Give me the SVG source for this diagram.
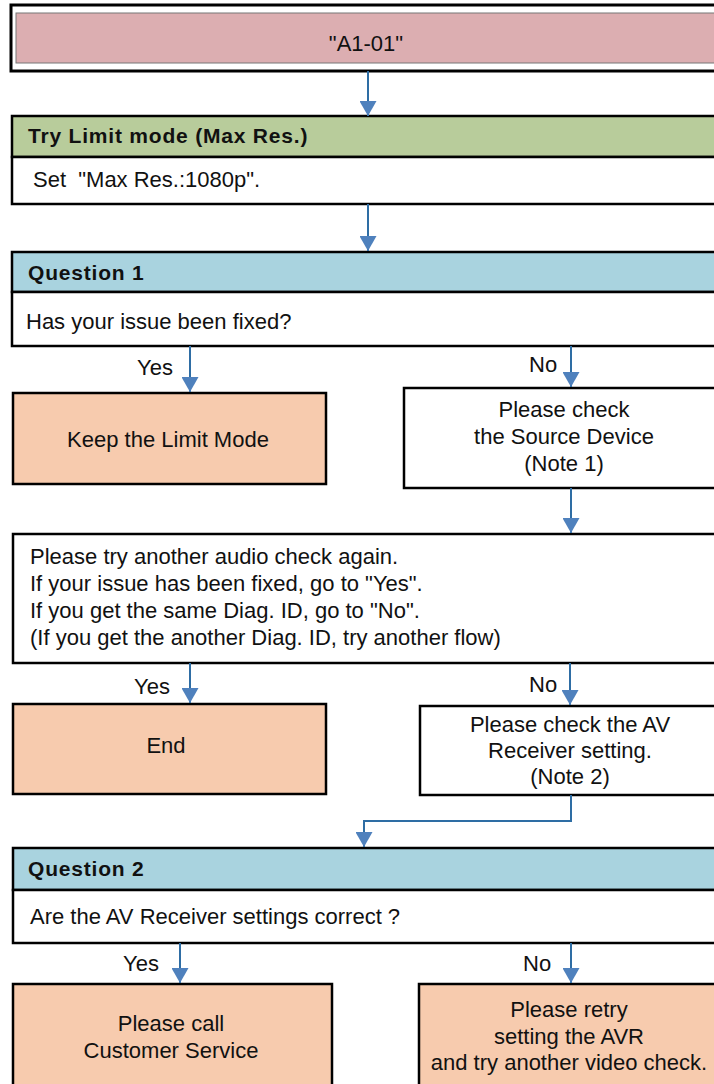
<svg xmlns="http://www.w3.org/2000/svg" width="714" height="1084" viewBox="0 0 714 1084">
<style>
.box{stroke:#000;stroke-width:2.5}
.w{fill:#fff}
.pk{fill:#f7cbae}
.gr{fill:#b8cc9b}
.bl{fill:#a9d3df}
.t{font-family:"Liberation Sans",Arial,sans-serif;font-size:22px;fill:#111}
.b{font-family:"Liberation Sans",Arial,sans-serif;font-size:21px;font-weight:bold;letter-spacing:0.8px;fill:#111}
.c{text-anchor:middle}
.cn{fill:none;stroke:#2e6da4;stroke-width:2}
</style>
<defs>
<marker id="ah" markerUnits="userSpaceOnUse" markerWidth="17" markerHeight="17" refX="15" refY="8.5" orient="auto">
<path d="M0,0 L15,8.5 L0,17 z" fill="#4f81bd"/>
</marker>
</defs>
<g id="start">
<rect x="11" y="5" width="720" height="66" fill="#fff" stroke="#000" stroke-width="3"/>
<rect x="16" y="13" width="710" height="50" fill="#dcaeb1" stroke="#777" stroke-width="1"/>
<text class="t c" x="366" y="51">"A1-01"</text>
</g>
<g id="limit">
<rect class="box gr" x="12" y="116" width="720" height="41"/>
<rect class="box w" x="12" y="157" width="720" height="47"/>
<text class="b" x="28" y="143">Try Limit mode (Max Res.)</text>
<text class="t" x="33" y="187" xml:space="preserve">Set  "Max Res.:1080p".</text>
</g>
<g id="q1">
<rect class="box bl" x="12" y="252" width="720" height="40"/>
<rect class="box w" x="12" y="292" width="720" height="54"/>
<text class="b" x="28" y="280">Question 1</text>
<text class="t" x="26" y="329">Has your issue been fixed?</text>
</g>
<g id="keep">
<rect class="box pk" x="13" y="393" width="313" height="91"/>
<text class="t c" x="168" y="447">Keep the Limit Mode</text>
</g>
<g id="source">
<rect class="box w" x="404" y="388" width="330" height="100"/>
<text class="t c" x="564" y="417">Please check</text>
<text class="t c" x="564" y="444">the Source Device</text>
<text class="t c" x="564" y="471">(Note 1)</text>
</g>
<g id="retry-audio">
<rect class="box w" x="13" y="534" width="720" height="129"/>
<text class="t" x="30" y="564">Please try another audio check again.</text>
<text class="t" x="30" y="591">If your issue has been fixed, go to "Yes".</text>
<text class="t" x="30" y="618">If you get the same Diag. ID, go to "No".</text>
<text class="t" x="30" y="645">(If you get the another Diag. ID, try another flow)</text>
</g>
<g id="end">
<rect class="box pk" x="13" y="704" width="313" height="90"/>
<text class="t c" x="166" y="753">End</text>
</g>
<g id="avcheck">
<rect class="box w" x="420" y="706" width="314" height="89"/>
<text class="t c" x="570" y="732">Please check the AV</text>
<text class="t c" x="570" y="758">Receiver setting.</text>
<text class="t c" x="570" y="784">(Note 2)</text>
</g>
<g id="q2">
<rect class="box bl" x="13" y="848" width="720" height="42"/>
<rect class="box w" x="13" y="890" width="720" height="53"/>
<text class="b" x="28" y="876">Question 2</text>
<text class="t" x="30" y="924">Are the AV Receiver settings correct ?</text>
</g>
<g id="call">
<rect class="box pk" x="13" y="984" width="319" height="120"/>
<text class="t c" x="171" y="1031">Please call</text>
<text class="t c" x="171" y="1058">Customer Service</text>
</g>
<g id="retry-avr">
<rect class="box pk" x="419" y="984" width="320" height="120"/>
<text class="t c" x="569" y="1017">Please retry</text>
<text class="t c" x="569" y="1044">setting the AVR</text>
<text class="t c" x="569" y="1070">and try another video check.</text>
</g>
<g id="connectors">
<path class="cn" marker-end="url(#ah)" d="M368,71 V116"/>
<path class="cn" marker-end="url(#ah)" d="M368,204 V251"/>
<path class="cn" marker-end="url(#ah)" d="M190,346 V392"/>
<path class="cn" marker-end="url(#ah)" d="M571,346 V387"/>
<path class="cn" marker-end="url(#ah)" d="M571,488 V533"/>
<path class="cn" marker-end="url(#ah)" d="M190,663 V703"/>
<path class="cn" marker-end="url(#ah)" d="M570,663 V705"/>
<path class="cn" marker-end="url(#ah)" d="M571,795 V821 H364 V847"/>
<path class="cn" marker-end="url(#ah)" d="M180,943 V983"/>
<path class="cn" marker-end="url(#ah)" d="M571,943 V983"/>
<text class="t" x="137" y="375">Yes</text>
<text class="t" x="529" y="372">No</text>
<text class="t" x="134" y="694">Yes</text>
<text class="t" x="529" y="692">No</text>
<text class="t" x="123" y="971">Yes</text>
<text class="t" x="523" y="971">No</text>
</g>
</svg>
